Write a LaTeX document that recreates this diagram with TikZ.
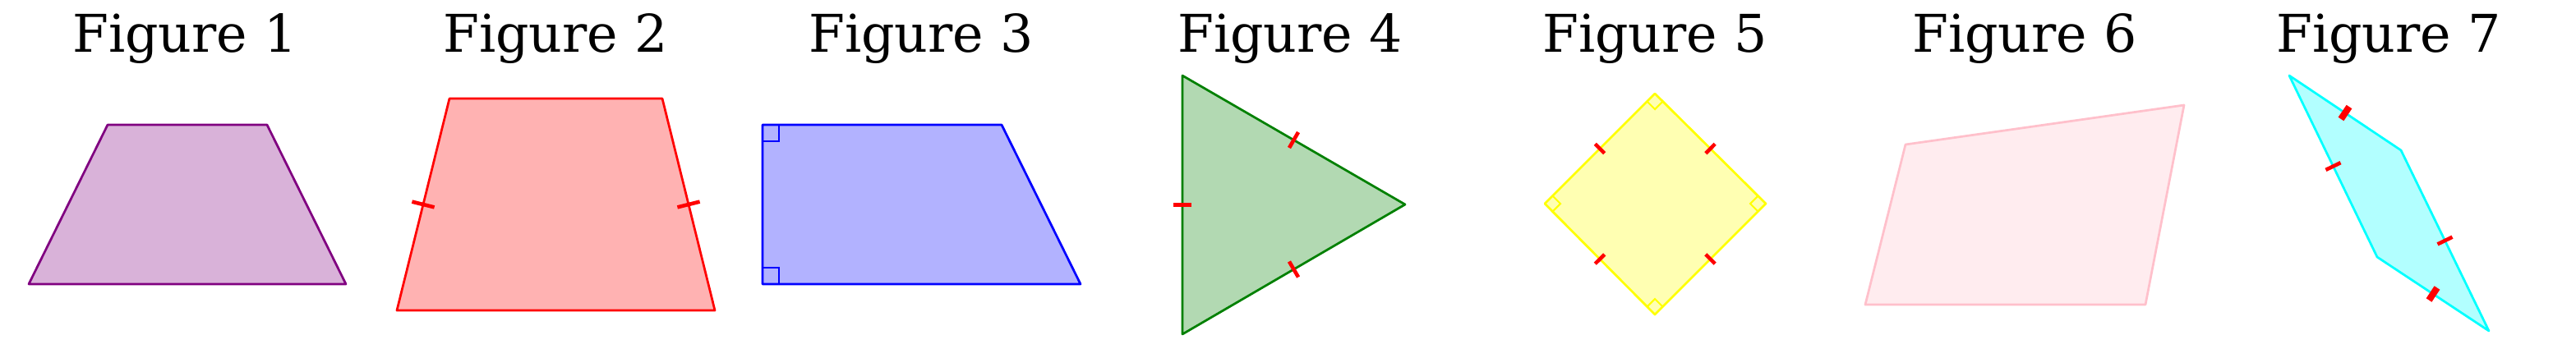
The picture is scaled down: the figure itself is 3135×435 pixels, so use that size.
\documentclass[tikz,border=0pt]{standalone}
\usepackage{fontspec}
\setmainfont{DejaVu Serif}
\usetikzlibrary{calc}
\definecolor{mpurple}{RGB}{128,0,128}
\definecolor{mgreen}{RGB}{0,128,0}
\definecolor{mpink}{RGB}{255,192,203}
\definecolor{mcyan}{RGB}{0,255,255}
\definecolor{myellow}{RGB}{255,255,0}
\tikzset{
  title/.style={anchor=base,inner sep=0pt,font=\fontsize{18}{20}\selectfont},
  shapeedge/.style={line width=0.78pt,line join=round},
  tickthin/.style={draw=red,line width=1.3pt},
  tickthick/.style={draw=red,line width=2.3pt},
  rightmark/.style={line width=0.6pt},
}
\newcommand\sidetick[4]{\draw[#1] ($(#2)!0.5!(#3)!#4!90:(#3)$) -- ($(#2)!0.5!(#3)!#4!-90:(#3)$);}
\begin{document}
\begin{tikzpicture}[x=0.01cm,y=-0.01cm]
\useasboundingbox (0,0) rectangle (3135,435);
% titles
\node[title] (t1) at (225,63) {Figure 1};
\node[title] (t2) at (676,63) {Figure 2};
\node[title] (t3) at (1121,63) {Figure 3};
\node[title] (t4) at (1570,63) {Figure 4};
\node[title] (t5) at (2014,63) {Figure 5};
\node[title] (t6) at (2464,63) {Figure 6};
\node[title] (t7) at (2907,63) {Figure 7};
% Figure 1
\coordinate (a1) at (35,346); \coordinate (a2) at (421,346);
\coordinate (a3) at (325,152); \coordinate (a4) at (131,152);
\draw[shapeedge,draw=mpurple,fill=mpurple!30] (a1) -- (a2) -- (a3) -- (a4) -- cycle;
% Figure 2
\coordinate (b1) at (483,378); \coordinate (b2) at (870,378);
\coordinate (b3) at (806,120); \coordinate (b4) at (547,120);
\draw[shapeedge,draw=red,fill=red!30] (b1) -- (b2) -- (b3) -- (b4) -- cycle;
\sidetick{tickthin}{b1}{b4}{0.14cm}
\sidetick{tickthin}{b2}{b3}{0.14cm}
% Figure 3
\coordinate (c1) at (928,346); \coordinate (c2) at (1315,346);
\coordinate (c3) at (1219,152); \coordinate (c4) at (928,152);
\draw[shapeedge,draw=blue,fill=blue!30] (c1) -- (c2) -- (c3) -- (c4) -- cycle;
\draw[rightmark,draw=blue] (928,172) -- (948,172) -- (948,152);
\draw[rightmark,draw=blue] (928,326) -- (948,326) -- (948,346);
% Figure 4
\coordinate (d1) at (1439,92); \coordinate (d2) at (1710,249);
\coordinate (d3) at (1439,407);
\draw[shapeedge,draw=mgreen,fill=mgreen!30] (d1) -- (d2) -- (d3) -- cycle;
\sidetick{tickthin}{d1}{d3}{0.11cm}
\sidetick{tickthin}{d1}{d2}{0.11cm}
\sidetick{tickthin}{d2}{d3}{0.11cm}
% Figure 5
\coordinate (e1) at (2014,114); \coordinate (e2) at (2149,248);
\coordinate (e3) at (2014,383); \coordinate (e4) at (1880,248);
\draw[shapeedge,draw=myellow,fill=myellow!30] (e1) -- (e2) -- (e3) -- (e4) -- cycle;
\draw[rightmark,draw=myellow] (2004.5,123.5) -- (2014,133) -- (2023.5,123.5);
\draw[rightmark,draw=myellow] (2139.5,238.5) -- (2130,248) -- (2139.5,257.5);
\draw[rightmark,draw=myellow] (2004.5,373.5) -- (2014,364) -- (2023.5,373.5);
\draw[rightmark,draw=myellow] (1889.5,238.5) -- (1899,248) -- (1889.5,257.5);
\sidetick{tickthin}{e1}{e2}{0.08cm}
\sidetick{tickthin}{e2}{e3}{0.08cm}
\sidetick{tickthin}{e3}{e4}{0.08cm}
\sidetick{tickthin}{e4}{e1}{0.08cm}
% Figure 6
\coordinate (f1) at (2270,371); \coordinate (f2) at (2611,371);
\coordinate (f3) at (2658,128); \coordinate (f4) at (2319,176);
\draw[shapeedge,draw=mpink,fill=mpink!30] (f1) -- (f2) -- (f3) -- (f4) -- cycle;
% Figure 7
\coordinate (g1) at (2786,92); \coordinate (g2) at (2922,183);
\coordinate (g3) at (3029,403); \coordinate (g4) at (2893,313);
\draw[shapeedge,draw=mcyan,fill=mcyan!30] (g1) -- (g2) -- (g3) -- (g4) -- cycle;
\sidetick{tickthick}{g1}{g2}{0.09cm}
\sidetick{tickthick}{g3}{g4}{0.09cm}
\sidetick{tickthin}{g1}{g4}{0.10cm}
\sidetick{tickthin}{g2}{g3}{0.10cm}
\end{tikzpicture}
\end{document}
